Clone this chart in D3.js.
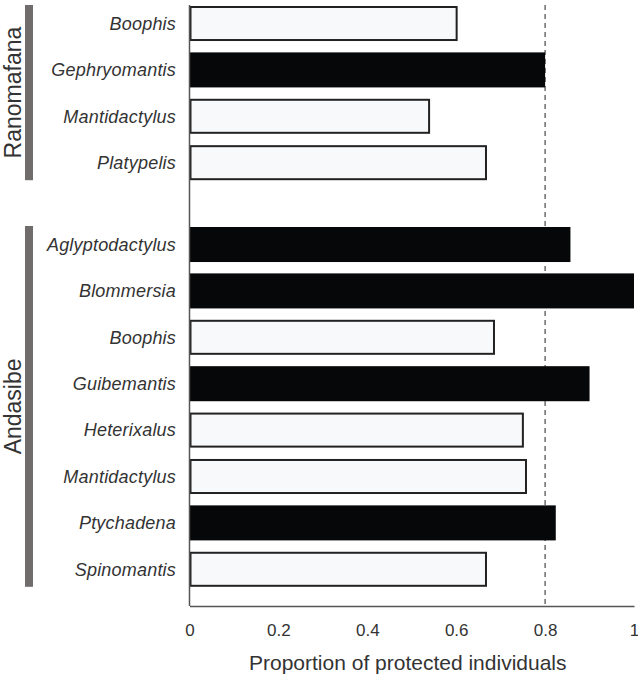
<!DOCTYPE html>
<html>
<head>
<meta charset="utf-8">
<script src="https://cdn.jsdelivr.net/npm/d3@7/dist/d3.min.js"></script>
<style>
  html, body { margin: 0; padding: 0; background: #fff; }
  text { font-family: "Liberation Sans", Arial, Helvetica, sans-serif; }
</style>
</head>
<body>
<svg id="chart" width="638" height="677"></svg>
<script>
// ---- data ----
const ranomafanaGenera = ["Boophis", "Gephryomantis", "Mantidactylus", "Platypelis"];
const ranomafanaValues = [0.601, 0.800, 0.539, 0.667];
const ranomafanaDark   = [false, true, false, false];

const andasibeGenera = ["Aglyptodactylus", "Blommersia", "Boophis", "Guibemantis", "Heterixalus", "Mantidactylus", "Ptychadena", "Spinomantis"];
const andasibeValues = [0.857, 1.000, 0.685, 0.900, 0.750, 0.757, 0.824, 0.667];
const andasibeDark   = [true, true, false, true, false, false, true, false];

const xTicks = [0, 0.2, 0.4, 0.6, 0.8, 1];
const xTickLabels = ["0", "0.2", "0.4", "0.6", "0.8", "1"];
const threshold = 0.8;
const xTitle = "Proportion of protected individuals";
const groupNames = ["Ranomafana", "Andasibe"];

// ---- layout ----
const svg = d3.select("#chart");
const x = d3.scaleLinear().domain([0, 1]).range([189.5, 634]);
const axisY = 606;
const topY = 5;

const groups = [
  { name: groupNames[0], genera: ranomafanaGenera, values: ranomafanaValues, dark: ranomafanaDark,
    y: d3.scaleBand().domain(ranomafanaGenera.map((g, i) => i)).range([6, 180.2]).paddingInner(0.245).paddingOuter(0) },
  { name: groupNames[1], genera: andasibeGenera, values: andasibeValues, dark: andasibeDark,
    y: d3.scaleBand().domain(andasibeGenera.map((g, i) => i)).range([227, 586.8]).paddingInner(0.245).paddingOuter(0) }
];

// dashed threshold line
svg.append("line")
  .attr("x1", x(threshold)).attr("x2", x(threshold))
  .attr("y1", topY).attr("y2", axisY)
  .attr("stroke", "#555").attr("stroke-width", 1.3)
  .attr("stroke-dasharray", "5,4");

groups.forEach(g => {
  const rows = g.genera.map((name, i) => ({ name, i, v: g.values[i], dark: g.dark[i] }));
  const gg = svg.append("g");
  gg.selectAll("rect.bar").data(rows).enter().append("rect")
    .attr("class", "bar")
    .attr("x", d => d.dark ? x(0) : x(0) + 1)
    .attr("y", d => d.dark ? g.y(d.i) : g.y(d.i) + 1)
    .attr("width", d => d.dark ? x(d.v) - x(0) : x(d.v) - x(0) - 1)
    .attr("height", d => d.dark ? g.y.bandwidth() : g.y.bandwidth() - 2)
    .attr("fill", d => d.dark ? "#060708" : "#f8f9fa")
    .attr("stroke", d => d.dark ? "none" : "#222")
    .attr("stroke-width", 2);
  gg.selectAll("text.lab").data(rows).enter().append("text")
    .attr("class", "lab")
    .attr("x", 176)
    .attr("y", d => g.y(d.i) + g.y.bandwidth() / 2)
    .attr("dy", "0.35em")
    .attr("text-anchor", "end")
    .attr("font-size", 18)
    .attr("font-style", "italic")
    .attr("letter-spacing", 0.2)
    .attr("fill", "#333")
    .text(d => d.name);
  // group bracket bar
  const y0 = g.y(0) - 1, y1 = g.y(g.genera.length - 1) + g.y.bandwidth();
  svg.append("rect")
    .attr("x", 25).attr("y", y0).attr("width", 8).attr("height", y1 - y0)
    .attr("fill", "#716c6c");
  svg.append("text")
    .attr("transform", `translate(21,${(y0 + y1) / 2}) rotate(-90)`)
    .attr("text-anchor", "middle")
    .attr("font-size", 23)
    .attr("fill", "#333")
    .text(g.name);
});

// axes lines
svg.append("line")
  .attr("x1", x(0)).attr("x2", x(0)).attr("y1", topY).attr("y2", axisY)
  .attr("stroke", "#555").attr("stroke-width", 1.5);
const xAxis = d3.axisBottom(x).tickValues(xTicks).tickFormat((d, i) => xTickLabels[i]).tickSize(0).tickPadding(18);
const ax = svg.append("g").attr("transform", `translate(0,${axisY})`).call(xAxis);
ax.select(".domain").attr("stroke", "#555").attr("stroke-width", 1.5);
ax.selectAll("text").attr("font-size", 17).attr("fill", "#333")
  .attr("font-family", "'Liberation Sans', Arial, sans-serif");

svg.append("text")
  .attr("x", (x(0) + x(1)) / 2 - 4)
  .attr("y", 670)
  .attr("text-anchor", "middle")
  .attr("font-size", 21)
  .attr("fill", "#333")
  .text(xTitle);
</script>
</body>
</html>
